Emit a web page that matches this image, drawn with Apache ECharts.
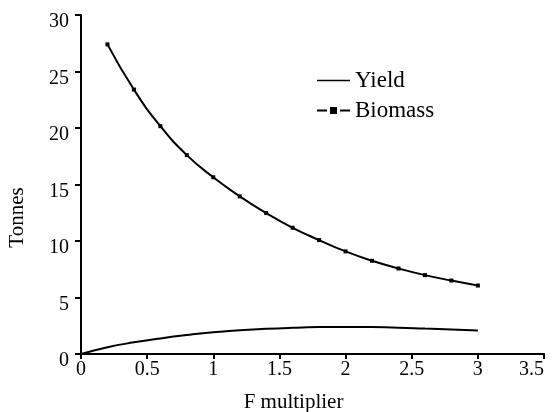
<!DOCTYPE html>
<html>
<head>
<meta charset="utf-8">
<script src="https://cdn.jsdelivr.net/npm/echarts@6/dist/echarts.min.js"></script>
<style>html,body{margin:0;padding:0;background:#fff}#c{width:552px;height:412px}</style>
</head>
<body>
<div id="c"></div>
<script>
var yieldF = [0, 0.2, 0.4, 0.6, 0.8, 1.0, 1.2, 1.4, 1.6, 1.8, 2.0, 2.2, 2.4, 2.6, 2.8, 3.0];
var yieldValues = [0, 0.6, 1.03, 1.38, 1.68, 1.93, 2.1, 2.23, 2.32, 2.38, 2.4, 2.38, 2.33, 2.25, 2.17, 2.07];
var biomassF = [0.2, 0.4, 0.6, 0.8, 1.0, 1.2, 1.4, 1.6, 1.8, 2.0, 2.2, 2.4, 2.6, 2.8, 3.0];
var biomassValues = [27.4, 23.4, 20.16, 17.6, 15.64, 13.95, 12.47, 11.17, 10.08, 9.08, 8.25, 7.57, 6.98, 6.5, 6.06];

function pairs(xs, ys){ return xs.map(function(x,i){ return [x, ys[i]]; }); }

var font = 'Liberation Serif';
var chart = echarts.init(document.getElementById('c'));
chart.setOption({
  animation: false,
  backgroundColor: '#fff',
  grid: {left: 81, right: 8, top: 15, bottom: 58, containLabel: false, outerBoundsMode: 'none'},
  legend: {
    left: 312, top: 64, orient: 'vertical', itemWidth: 33, itemHeight: 10, itemGap: 7,
    textStyle: {fontFamily: font, fontSize: 23, color: '#000'},
    data: [
      {name: 'Yield', icon: 'path://M0,4.2H33V5.8H0Z'},
      {name: 'Biomass', icon: 'path://M0,4H10V6H0Z M13,1.5H20V8.5H13Z M23,4H33V6H23Z'}
    ]
  },
  xAxis: {
    type: 'value', min: 0, max: 3.5, interval: 0.5,
    name: 'F multiplier', nameLocation: 'middle', nameGap: 38,
    nameTextStyle: {fontFamily: font, fontSize: 21, color: '#000', padding: [0, 38, 0, 0]},
    axisLine: {lineStyle: {color: '#000', width: 2}},
    axisTick: {show: true, length: 5, lineStyle: {color: '#000', width: 2}},
    axisLabel: {fontFamily: font, fontSize: 20, color: '#000', margin: 6, alignMaxLabel: 'right'},
    splitLine: {show: false}
  },
  yAxis: {
    type: 'value', min: 0, max: 30, interval: 5,
    name: 'Tonnes', nameLocation: 'middle', nameGap: 53, nameRotate: 90,
    nameTextStyle: {fontFamily: font, fontSize: 21, color: '#000', padding: [0, 66, 0, 0]},
    axisLine: {show: true, lineStyle: {color: '#000', width: 2}},
    axisTick: {show: true, length: 6, lineStyle: {color: '#000', width: 2}},
    axisLabel: {fontFamily: font, fontSize: 20, color: '#000', margin: 12, verticalAlign: 'top', lineHeight: 14},
    splitLine: {show: false}
  },
  series: [
    {
      name: 'Yield', type: 'line', smooth: true, symbol: 'none',
      data: pairs(yieldF, yieldValues),
      lineStyle: {color: '#000', width: 2}, itemStyle: {color: '#000'}
    },
    {
      name: 'Biomass', type: 'line', smooth: true, symbol: 'rect', symbolSize: 4,
      data: pairs(biomassF, biomassValues),
      lineStyle: {color: '#000', width: 2}, itemStyle: {color: '#000'}
    }
  ]
});
</script>
</body>
</html>
